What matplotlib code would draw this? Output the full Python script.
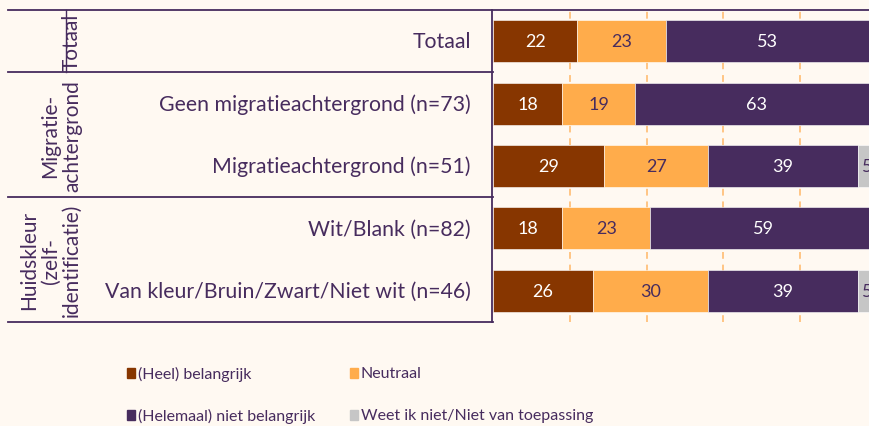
import matplotlib
matplotlib.use("Agg")
import matplotlib.pyplot as plt
from matplotlib.patches import Rectangle
from matplotlib.lines import Line2D
import numpy as np

categories = ["Totaal",
              "Geen migratieachtergrond (n=73)",
              "Migratieachtergrond (n=51)",
              "Wit/Blank (n=82)",
              "Van kleur/Bruin/Zwart/Niet wit (n=46)"]
groups = ["Totaal", "Migratie-\nachtergrond", "Huidskleur\n(zelf-\nidentificatie)"]
group_sizes = [1, 2, 2]
series_names = ["(Heel) belangrijk", "Neutraal", "(Helemaal) niet belangrijk",
                "Weet ik niet/Niet van toepassing"]
belangrijk = [22, 18, 29, 18, 26]
neutraal = [23, 19, 27, 23, 30]
niet_belangrijk = [53, 63, 39, 59, 39]
weet_niet = [2, 0, 5, 0, 5]
gridticks = [20, 40, 60, 80, 100]

BG = "#FFF9F2"
PURPLE = "#472C5E"
colors = ["#873600", "#FFAC4B", PURPLE, "#C6C6C6"]
label_colors = ["white", PURPLE, "white", PURPLE]

plt.rcParams["font.family"] = ["Lato", "DejaVu Sans"]

W, H = 869, 427
fig = plt.figure(figsize=(W / 100, H / 100), dpi=100, facecolor=BG)

def fx(px):
    return px / W

def fy(py):
    return 1 - py / H

ax_left, ax_top, ax_bottom = 493, 11, 323
ax_width = 384
ax = fig.add_axes([fx(ax_left), fy(ax_bottom), fx(ax_width), (ax_bottom - ax_top) / H])
ax.set_facecolor(BG)
ax.set_xlim(0, 100)
ax.set_ylim(len(categories) - 0.5, -0.5)
for s in ax.spines.values():
    s.set_visible(False)
ax.set_xticks([])
ax.set_yticks([])

for g in gridticks:
    ax.axvline(g, color="#FFC585", lw=1.4, ls=(0, (3.5, 3)), zorder=0)

y = np.arange(len(categories))
series = [belangrijk, neutraal, niet_belangrijk, weet_niet]
left = np.zeros(len(categories))
handles = []
for vals, col, lc, name in zip(series, colors, label_colors, series_names):
    vals = np.array(vals, dtype=float)
    bars = ax.barh(y, vals, left=left, height=0.67, color=col, edgecolor="white",
                   linewidth=0.4, zorder=2, label=name)
    handles.append(bars)
    for yi, (l, v) in enumerate(zip(left, vals)):
        if v > 2:
            ax.text(l + v / 2, yi, f"{int(v)}", ha="center", va="center",
                    color=lc, fontsize=13, zorder=3, clip_on=False)
    left += vals

# frame lines (figure coords)
def hline(x0, x1, yy, lw=1.3):
    fig.add_artist(Line2D([fx(x0), fx(x1)], [fy(yy), fy(yy)], color=PURPLE, lw=lw))

def vline(xx, y0, y1, lw=1.3):
    fig.add_artist(Line2D([fx(xx), fx(xx)], [fy(y0), fy(y1)], color=PURPLE, lw=lw))

row_h = (ax_bottom - ax_top) / len(categories)
hline(8, W, ax_top)
hline(8, ax_left, ax_bottom)
vline(ax_left - 1, ax_top, ax_bottom)
vline(66, ax_top, ax_top + row_h, lw=1.0)
start = 0
for gname, gs in zip(groups, group_sizes):
    y0 = ax_top + start * row_h
    y1 = ax_top + (start + gs) * row_h
    if start > 0:
        hline(8, ax_left, y0)
    fig.text(fx(82), fy((y0 + y1) / 2), gname, rotation=90, ha="right", va="center",
             multialignment="center", color=PURPLE, fontsize=15, linespacing=1.1)
    start += gs

for i, c in enumerate(categories):
    fig.text(fx(471), fy(ax_top + (i + 0.5) * row_h), c, ha="right", va="center",
             color=PURPLE, fontsize=15.3)

# legend
leg_pos = [(127, 374), (350, 374), (127, 416), (350, 416)]
for (lx, ly), col, name in zip(leg_pos, colors, series_names):
    fig.add_artist(Rectangle((fx(lx), fy(ly + 5)), fx(8), 10 / H, color=col,
                             transform=fig.transFigure))
    fig.text(fx(lx + 11), fy(ly), name, ha="left", va="center", color=PURPLE, fontsize=11.5)

fig.savefig("out.png", dpi=100, facecolor=BG)
